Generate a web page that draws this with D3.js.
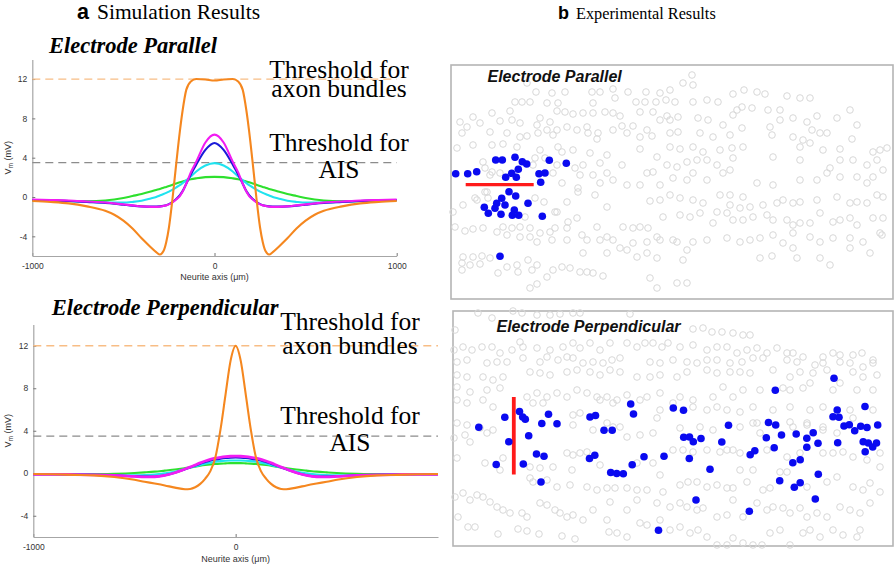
<!DOCTYPE html>
<html><head><meta charset="utf-8">
<script src="https://cdn.jsdelivr.net/npm/d3@7"></script>
<style>body{margin:0;background:#fff}svg{display:block}</style>
</head><body><svg id="c" width="896" height="566"></svg>
<script>
// ---------- DATA ----------
const xTicks = [-1000, 0, 1000];
const yTicks = [-4, 0, 4, 8, 12];
const thrAxon = 12, thrAIS = 3.5;
const seriesNames = ["green", "cyan", "blue", "magenta", "orange"];

// Electrode Parallel (simulation)
const parX = [-1000,-900,-800,-700,-600,-550,-500,-450,-400,-350,-320,-300,-280,-265,-250,-230,-210,-190,-175,-155,-130,-100,-50,0,50,100,130,155,175,190,210,230,250,265,280,300,320,350,400,450,500,550,600,700,800,900,1000];
const parOrange = [-0.4,-0.5,-0.65,-0.95,-1.4,-1.8,-2.4,-3.2,-4.2,-5.1,-5.6,-5.85,-5.5,-4.6,-3.1,-0.1,3.4,6.7,8.8,10.9,11.75,12.0,11.95,11.85,11.95,12.0,11.75,10.9,8.8,6.7,3.4,-0.1,-3.1,-4.6,-5.5,-5.85,-5.6,-5.1,-4.2,-3.2,-2.4,-1.8,-1.4,-0.95,-0.65,-0.5,-0.4];
const parMagenta = [-0.25,-0.3,-0.35,-0.45,-0.55,-0.65,-0.75,-0.85,-0.95,-1.0,-1.0,-0.98,-0.92,-0.85,-0.75,-0.55,-0.25,0.1,0.55,1.35,2.5,3.6,5.55,6.35,5.55,3.6,2.5,1.35,0.55,0.1,-0.25,-0.55,-0.75,-0.85,-0.92,-0.98,-1.0,-1.0,-0.95,-0.85,-0.75,-0.65,-0.55,-0.45,-0.35,-0.3,-0.25];
const parBlue = [-0.3,-0.35,-0.4,-0.5,-0.6,-0.68,-0.78,-0.88,-0.95,-0.98,-0.97,-0.95,-0.9,-0.83,-0.72,-0.5,-0.2,0.2,0.6,1.35,2.3,3.3,4.8,5.5,4.8,3.3,2.3,1.35,0.6,0.2,-0.2,-0.5,-0.72,-0.83,-0.9,-0.95,-0.97,-0.98,-0.95,-0.88,-0.78,-0.68,-0.6,-0.5,-0.4,-0.35,-0.3];
const parCyan = [-0.3,-0.35,-0.4,-0.48,-0.55,-0.57,-0.57,-0.5,-0.38,-0.15,0.0,0.15,0.3,0.42,0.55,0.75,0.98,1.22,1.42,1.7,2.1,2.6,3.2,3.45,3.2,2.6,2.1,1.7,1.42,1.22,0.98,0.75,0.55,0.42,0.3,0.15,0.0,-0.15,-0.38,-0.5,-0.57,-0.57,-0.55,-0.48,-0.4,-0.35,-0.3];
const parGreen = [-0.35,-0.38,-0.42,-0.42,-0.35,-0.25,-0.1,0.1,0.3,0.55,0.72,0.82,0.95,1.03,1.12,1.25,1.38,1.5,1.58,1.68,1.8,1.9,2.02,2.05,2.02,1.9,1.8,1.68,1.58,1.5,1.38,1.25,1.12,1.03,0.95,0.82,0.72,0.55,0.3,0.1,-0.1,-0.25,-0.35,-0.42,-0.42,-0.38,-0.35];

// Electrode Perpendicular (simulation)
const perX = [-1000,-900,-800,-700,-600,-500,-450,-400,-350,-300,-250,-225,-200,-175,-150,-125,-100,-75,-50,-25,0,25,50,75,100,125,150,175,200,225,250,300,350,400,450,500,600,700,800,900,1000];
const perOrange = [-0.07,-0.1,-0.15,-0.2,-0.35,-0.62,-0.8,-0.97,-1.15,-1.35,-1.5,-1.48,-1.32,-1.0,-0.5,0.2,1.5,4.1,7.4,10.6,12.0,10.6,7.4,4.1,1.5,0.2,-0.5,-1.0,-1.32,-1.48,-1.5,-1.35,-1.15,-0.97,-0.8,-0.62,-0.35,-0.2,-0.15,-0.1,-0.07];
const perMagenta = [-0.1,-0.1,-0.12,-0.15,-0.2,-0.3,-0.35,-0.33,-0.2,0.05,0.4,0.58,0.78,0.98,1.15,1.3,1.42,1.5,1.56,1.6,1.62,1.6,1.56,1.5,1.42,1.3,1.15,0.98,0.78,0.58,0.4,0.05,-0.2,-0.33,-0.35,-0.3,-0.2,-0.15,-0.12,-0.1,-0.1];
const perBlue = [-0.1,-0.1,-0.12,-0.15,-0.2,-0.28,-0.32,-0.3,-0.18,0.05,0.38,0.55,0.72,0.9,1.05,1.2,1.3,1.38,1.44,1.47,1.48,1.47,1.44,1.38,1.3,1.2,1.05,0.9,0.72,0.55,0.38,0.05,-0.18,-0.3,-0.32,-0.28,-0.2,-0.15,-0.12,-0.1,-0.1];
const perCyan = [-0.1,-0.1,-0.12,-0.14,-0.18,-0.2,-0.18,-0.12,0.0,0.15,0.4,0.52,0.65,0.78,0.9,1.0,1.08,1.14,1.18,1.2,1.2,1.2,1.18,1.14,1.08,1.0,0.9,0.78,0.65,0.52,0.4,0.15,0.0,-0.12,-0.18,-0.2,-0.18,-0.14,-0.12,-0.1,-0.1];
const perGreen = [-0.1,-0.1,-0.1,-0.08,-0.05,0.02,0.08,0.15,0.25,0.35,0.48,0.55,0.62,0.7,0.77,0.83,0.88,0.91,0.93,0.95,0.95,0.95,0.93,0.91,0.88,0.83,0.77,0.7,0.62,0.55,0.48,0.35,0.25,0.15,0.08,0.02,-0.05,-0.08,-0.1,-0.1,-0.1];

// Experimental panels: cell positions in panel units (0..442 x 0..235)
const parCells = [[241,10],[232,18],[242,20],[76,18],[85,27],[101,28],[114,27],[141,27],[149,27],[162,24],[177,27],[195,27],[209,28],[219,25],[282,29],[293,25],[306,27],[314,29],[336,31],[349,33],[359,33],[64,37],[71,37],[79,37],[96,38],[107,38],[142,38],[164,33],[185,37],[194,37],[205,37],[215,35],[224,37],[242,37],[256,35],[267,37],[291,42],[301,43],[286,45],[317,45],[329,45],[399,45],[41,48],[59,46],[106,46],[114,47],[122,49],[132,48],[142,48],[154,47],[162,48],[169,51],[189,47],[202,47],[216,51],[282,50],[9,57],[22,52],[29,58],[16,62],[11,68],[49,56],[61,55],[69,58],[89,53],[99,57],[86,60],[96,65],[106,65],[116,62],[126,65],[136,62],[147,68],[162,65],[171,61],[182,61],[196,65],[209,55],[219,55],[227,52],[247,53],[257,55],[272,60],[291,63],[319,62],[329,55],[342,53],[356,57],[366,51],[386,53],[406,60],[39,67],[56,68],[69,72],[76,71],[87,68],[102,70],[137,68],[146,74],[176,68],[189,72],[201,71],[219,68],[227,67],[249,68],[262,72],[279,70],[321,70],[342,72],[352,75],[361,65],[369,68],[376,68],[401,74],[6,83],[22,80],[41,80],[52,79],[66,82],[89,85],[107,82],[122,85],[139,88],[156,90],[171,100],[189,84],[206,92],[219,82],[229,84],[242,82],[252,87],[269,85],[281,83],[292,82],[282,93],[322,92],[349,82],[359,78],[372,85],[389,84],[402,95],[422,87],[429,85],[436,83],[32,97],[82,100],[132,100],[149,98],[156,108],[202,107],[216,100],[226,102],[236,97],[246,95],[256,95],[266,100],[279,105],[349,95],[379,103],[389,95],[416,100],[426,95],[432,105],
[39,110],[49,108],[102,108],[111,118],[129,110],[142,110],[149,118],[162,115],[176,120],[189,120],[196,108],[209,120],[222,113],[236,115],[242,108],[256,115],[272,108],[306,118],[322,120],[349,115],[366,115],[376,108],[389,112],[406,112],[416,118],[422,112],[36,127],[26,135],[12,140],[2,147],[93,137],[106,147],[116,137],[127,127],[144,130],[156,142],[199,136],[209,135],[219,130],[229,133],[242,135],[252,138],[269,130],[279,130],[292,132],[279,140],[289,143],[299,142],[312,140],[326,138],[332,135],[342,138],[349,137],[366,135],[386,132],[399,138],[406,137],[416,138],[426,130],[432,132],[4,162],[14,166],[22,164],[32,163],[46,167],[52,162],[61,163],[69,162],[79,163],[89,168],[99,167],[116,163],[126,153],[131,170],[146,162],[156,172],[172,162],[182,163],[189,162],[197,163],[206,172],[212,152],[229,150],[239,152],[222,175],[236,185],[249,148],[262,158],[266,147],[276,148],[282,155],[292,155],[302,152],[316,150],[322,155],[336,155],[342,160],[349,158],[359,158],[369,148],[382,157],[389,155],[399,153],[406,160],[422,153],[432,153],[429,168],[56,170],[69,172],[79,172],[86,177],[101,175],[116,175],[136,175],[149,175],[162,175],[169,183],[176,185],[182,178],[196,177],[209,175],[226,177],[242,177],[256,175],[276,173],[289,177],[299,175],[309,173],[322,170],[332,178],[342,168],[359,172],[369,177],[382,173],[399,173],[412,177],[431,170],[12,192],[22,192],[31,191],[39,193],[11,198],[19,200],[29,199],[11,205],[56,202],[66,200],[77,195],[86,200],[102,205],[111,202],[119,203],[129,207],[136,207],[142,208],[152,211],[96,212],[79,223],[86,219],[132,188],[156,188],[186,192],[196,188],[206,193],[232,195],[309,193],[321,191],[342,183],[346,193],[369,193],[379,200],[399,183],[419,188],[199,213],[206,223],[226,218],[236,218],[47,208],[67,207],[81,205],
[34,103],[41,107],[84,93],[94,93],[106,100],[111,87],[124,103],[127,123],[34,127],[37,133],[24,133],[84,133],[74,152],[104,147],[117,157],[104,163]];
const parActive = [[44.7,95],[51.3,95],[64,92.3],[71.3,96.7],[75.7,99],[98.3,95.3],[115.3,98.3],[4.7,108.7],[16.7,108.7],[25.7,106.7],[67.3,104.3],[60.7,108.3],[54.7,112.3],[65.3,112.3],[88,108.7],[94,108],[89.7,117.3],[58,126.7],[64.7,131],[50.7,133.3],[45.7,138.3],[54,140],[77,138.3],[33.3,142.3],[44,143.3],[63.3,145],[37.3,148.3],[50,149.3],[61.3,150.3],[67.7,150.3],[91.3,151.3],[49,191.3]];
const parElectrode = [[14.7,119.7],[82.7,119.7]];

const perCells = [[25,2],[39,7],[60,0],[69,2],[84,4],[97,4],[107,3],[120,2],[127,2],[177,3],[2,19],[240,18],[250,17],[259,21],[269,21],[280,22],[290,24],[297,24],[1,39],[10,36],[19,39],[29,36],[39,36],[47,42],[59,39],[67,31],[70,36],[84,37],[97,39],[110,36],[120,32],[127,37],[137,32],[147,39],[157,32],[174,32],[184,36],[192,32],[200,32],[209,36],[215,32],[227,36],[240,34],[254,39],[264,36],[274,36],[284,42],[294,39],[304,37],[314,42],[324,37],[334,42],[340,42],[350,46],[370,46],[380,42],[387,44],[400,44],[409,42],[420,49],[4,51],[14,49],[34,52],[44,51],[54,51],[70,47],[87,51],[94,46],[105,49],[114,46],[120,47],[130,52],[140,51],[150,52],[159,49],[167,47],[197,51],[207,52],[220,49],[234,51],[244,52],[254,49],[264,49],[277,52],[289,51],[300,47],[310,47],[334,49],[344,51],[362,54],[370,52],[387,51],[397,52],[410,56],[420,52],[4,64],[14,66],[30,66],[40,69],[50,66],[77,61],[87,62],[97,64],[114,61],[124,59],[137,61],[147,64],[157,59],[167,61],[184,66],[197,66],[207,64],[224,66],[234,61],[254,59],[264,62],[277,61],[287,61],[297,62],[320,59],[337,66],[347,61],[360,62],[374,59],[400,61],[410,66],[424,64],[4,76],[17,81],[34,79],[47,77],[74,86],[84,82],[94,86],[104,82],[114,86],[124,79],[134,82],[144,86],[154,86],[164,89],[174,84],[187,89],[194,86],[207,82],[227,86],[240,89],[260,86],[270,76],[280,86],[290,79],[307,79],[330,77],[337,79],[350,77],[357,72],[380,79],[387,72],[404,79],[420,79],[4,89],[14,92],[30,89],[40,96],[80,92],[90,92],[120,104],[127,102],[147,89],[160,92],[207,99],[220,92],[240,96],[254,99],[264,96],[274,99],[287,101],[300,96],[320,99],[337,96],[357,99],[370,96],[397,99],[420,99],[204,107],[154,112],[167,116],[304,112],[337,111],[354,114],[370,116],[400,107],
[4,112],[14,114],[27,117],[40,119],[1,127],[17,131],[12,124],[34,122],[120,114],[140,119],[160,116],[174,126],[187,124],[200,122],[227,117],[247,116],[260,119],[287,116],[300,112],[307,122],[340,116],[354,112],[370,119],[384,122],[4,147],[32,152],[50,147],[77,156],[87,157],[100,156],[114,142],[120,144],[127,142],[134,141],[147,154],[119,159],[184,152],[200,152],[220,139],[230,139],[240,141],[254,139],[267,141],[274,139],[280,139],[287,142],[314,139],[334,146],[347,142],[370,142],[380,142],[390,141],[400,146],[414,149],[427,142],[427,156],[47,159],[77,167],[80,171],[94,169],[104,176],[117,174],[134,176],[144,179],[154,177],[162,177],[174,177],[184,179],[194,179],[207,164],[210,181],[227,174],[235,171],[244,171],[254,176],[264,174],[274,177],[280,177],[287,159],[294,171],[300,159],[310,179],[317,177],[327,161],[334,161],[354,176],[374,171],[384,166],[400,176],[410,179],[417,172],[427,181],[2,186],[10,182],[17,189],[24,184],[30,186],[37,191],[44,196],[50,199],[57,202],[69,202],[74,206],[87,192],[94,194],[102,199],[107,202],[114,206],[120,204],[130,209],[140,199],[157,191],[154,209],[174,199],[184,189],[204,192],[217,196],[227,192],[234,196],[244,199],[250,197],[264,206],[274,204],[280,189],[290,206],[304,192],[314,199],[320,196],[330,197],[337,202],[347,197],[354,206],[364,202],[374,206],[387,196],[397,199],[407,202],[417,192],[5,206],[15,216],[22,216],[45,223],[65,218],[74,220],[86,223],[109,225],[122,228],[156,221],[164,222],[174,226],[187,212],[194,214],[207,209],[217,219],[227,216],[237,222],[245,219],[254,226],[264,234],[274,234],[280,227],[290,232],[300,234],[309,234],[317,222],[327,219],[337,234],[350,222],[357,219],[367,226],[380,219],[390,224],[404,226],[407,219]];
const perActive = [[381,67.3],[322.3,79.3],[177.7,93],[220.3,97],[230.5,99.3],[412,95.5],[51.8,106.3],[66.5,100.5],[69.7,106],[72.3,108.3],[95.5,103.3],[88.8,112.5],[104,112.8],[137,106],[142.5,104.5],[180.5,103],[384.2,99],[380,105.8],[386,106.3],[275.5,114.3],[315.5,111.5],[322.7,114],[391,115],[396.3,113.7],[401.7,119.7],[407.7,115.3],[414,116.5],[424.7,114],[25.8,116.3],[75.7,124.7],[55.8,130.7],[83.5,143],[91,145.3],[43.2,153.5],[70.3,153],[136.5,147.5],[141.8,144.2],[88,171],[151,119.2],[159.2,119.2],[157.7,161.5],[163.7,162.5],[170.3,162.7],[179.2,153.8],[191,145.7],[211,145.3],[230.7,126.2],[236.5,126],[240.3,130.7],[248,127.5],[236.3,147.5],[257,158.2],[268.8,131],[243,189],[205.5,219.3],[296.3,200.3],[297.2,143.7],[301.8,139.8],[313.3,126.7],[321.2,136.7],[328.5,124],[343.2,123],[353.8,127.3],[360.2,121.7],[353.8,136.3],[365,132.2],[339.8,151.8],[347.2,148.8],[365.3,163.2],[326.7,169.7],[341.3,176.3],[347.2,171.7],[362.3,188],[384.7,131.7],[410.2,130.8],[415.3,132],[419.7,136],[423.5,132],[412.2,140.8]];
const perElectrode = [[60.8,86],[60.8,163.5]];

// ---------- DRAW ----------
const svg = d3.select("#c");
const colors = {green:"#2ee02e", cyan:"#1fe3ef", blue:"#1a1ad8", magenta:"#f21cf2", orange:"#f5871f"};
const serif = "'Liberation Serif', 'Times New Roman', serif";
const sans = "'Liberation Sans', Arial, sans-serif";

// headers
const ha = svg.append("text").attr("x", 77).attr("y", 19).attr("font-size", 21.5);
ha.append("tspan").attr("font-family", sans).attr("font-weight", "bold").text("a");
ha.append("tspan").attr("font-family", serif).attr("dx", 8).text("Simulation Results");
const hb = svg.append("text").attr("x", 558).attr("y", 19);
hb.append("tspan").attr("font-family", sans).attr("font-weight", "bold").attr("font-size", 18).text("b");
hb.append("tspan").attr("font-family", serif).attr("font-size", 16.3).attr("dx", 7).text("Experimental Results");

function drawSim(cfg) {
  const g = svg.append("g");
  if (cfg.clip) {
    svg.append("clipPath").attr("id", cfg.clip).append("rect")
      .attr("x", 0).attr("y", cfg.yr[1] - 40).attr("width", 441).attr("height", 300);
    g.attr("clip-path", `url(#${cfg.clip})`);
  }
  const x = d3.scaleLinear().domain([-1000, 1000]).range(cfg.xr);
  const y = d3.scaleLinear().domain([-6, 14]).range(cfg.yr);

  const xa = g.append("g").attr("transform", `translate(0,${y(-6)})`)
    .call(d3.axisBottom(x).tickValues(cfg.xt).tickSizeInner(-3).tickSizeOuter(0).tickPadding(7).tickFormat(d => String(d)));
  const ya = g.append("g").attr("transform", `translate(${x(-1000)},0)`)
    .call(d3.axisLeft(y).tickValues(yTicks).tickSizeInner(-3).tickSizeOuter(0).tickPadding(5).tickFormat(d => String(d)));
  [xa, ya].forEach(a => {
    a.select(".domain").attr("stroke", "#a6a6a6").attr("stroke-width", 1.2);
    a.selectAll(".tick line").attr("stroke", "#777");
    a.selectAll(".tick text").attr("font-family", sans).attr("font-size", 8.5).attr("fill", "#333");
  });

  // thresholds
  g.append("line").attr("x1", x(-1000)).attr("x2", x(1000)).attr("y1", y(thrAxon)).attr("y2", y(thrAxon))
    .attr("stroke", "#f8bd85").attr("stroke-width", 1.3).attr("stroke-dasharray", "8,5");
  g.append("line").attr("x1", x(-1000)).attr("x2", x(1000)).attr("y1", y(thrAIS)).attr("y2", y(thrAIS))
    .attr("stroke", "#8c8c8c").attr("stroke-width", 1.3).attr("stroke-dasharray", "8,5");

  const line = d3.line().x(d => x(d[0])).y(d => y(d[1])).curve(d3.curveMonotoneX);
  seriesNames.forEach(n => {
    const vals = cfg.series[n];
    g.append("path").datum(cfg.xs.map((v, i) => [v, vals[i]]))
      .attr("d", line).attr("fill", "none").attr("stroke", colors[n])
      .attr("stroke-width", n === "magenta" && cfg.thickMag ? 2.8 : 2.1).attr("stroke-linejoin", "round");
  });

  // axis labels
  svg.append("text").attr("x", x(0)).attr("y", cfg.xlabY).attr("text-anchor", "middle")
    .attr("font-family", sans).attr("font-size", 9).attr("fill", "#333").text("Neurite axis (\u03bcm)");
  const yl = svg.append("text").attr("transform", `translate(11,${(y(-6) + y(14)) / 2}) rotate(-90)`)
    .attr("text-anchor", "middle").attr("font-family", sans).attr("font-size", 9).attr("fill", "#333");
  yl.append("tspan").text("V");
  yl.append("tspan").attr("font-size", 6.5).attr("dy", 2).text("m");
  yl.append("tspan").attr("dy", -2).text(" (mV)");

  // titles & threshold notes
  svg.append("text").attr("x", cfg.titleX).attr("y", cfg.titleY).attr("font-family", serif)
    .attr("font-weight", "bold").attr("font-style", "italic").attr("font-size", 22.5).text(cfg.title);
  cfg.notes.forEach(nt => {
    svg.append("text").attr("x", cfg.noteX).attr("y", nt[1]).attr("text-anchor", "middle")
      .attr("font-family", serif).attr("font-size", 25.5).attr("fill", "#000").text(nt[0]);
  });
}

drawSim({
  xr: [32.3, 396.7], yr: [256, 59.4], xt: xTicks, xs: parX,
  series: {orange: parOrange, magenta: parMagenta, blue: parBlue, cyan: parCyan, green: parGreen},
  xlabY: 279.5, title: "Electrode Parallel", titleX: 49, titleY: 53,
  noteX: 339, notes: [["Threshold for", 78], ["axon bundles", 96.5], ["Threshold for", 150.5], ["AIS", 178]]
});
drawSim({
  xr: [33.3, 438], yr: [537, 324.5], xt: [-1000, 0], xs: perX, clip: "clipB", thickMag: true,
  series: {orange: perOrange, magenta: perMagenta, blue: perBlue, cyan: perCyan, green: perGreen},
  xlabY: 562, title: "Electrode Perpendicular", titleX: 51.7, titleY: 315,
  noteX: 350, notes: [["Threshold for", 329.5], ["axon bundles", 354], ["Threshold for", 423.5], ["AIS", 450.7]]
});

function drawExp(cfg) {
  const x = d3.scaleLinear().domain([0, cfg.w]).range([cfg.x0, cfg.x0 + cfg.w]);
  const y = d3.scaleLinear().domain([0, cfg.h]).range([cfg.y0, cfg.y0 + cfg.h]);
  const g = svg.append("g");
  g.append("rect").attr("x", x(0)).attr("y", y(0)).attr("width", x(cfg.w) - x(0)).attr("height", y(cfg.h) - y(0))
    .attr("fill", "#fff").attr("stroke", "#b5b5b5").attr("stroke-width", 1.6);
  g.selectAll(".cell").data(cfg.cells).join("circle")
    .attr("cx", d => x(d[0])).attr("cy", d => y(d[1])).attr("r", 3.3)
    .attr("fill", "none").attr("stroke", "#d8d8d8").attr("stroke-width", 1);
  g.append("text").attr("x", cfg.tx).attr("y", cfg.ty).attr("font-family", sans).attr("font-weight", "bold")
    .attr("font-style", "italic").attr("font-size", 16).attr("fill", "#111").text(cfg.title);
  g.append("line").attr("x1", x(cfg.el[0][0])).attr("y1", y(cfg.el[0][1]))
    .attr("x2", x(cfg.el[1][0])).attr("y2", y(cfg.el[1][1]))
    .attr("stroke", "#ff1a1a").attr("stroke-width", cfg.elw);
  g.selectAll(".act").data(cfg.active).join("circle")
    .attr("cx", d => x(d[0])).attr("cy", d => y(d[1])).attr("r", 3.8).attr("fill", "#0a0af0");
}

drawExp({x0: 451, y0: 65, w: 442, h: 234, cells: parCells, active: parActive, el: parElectrode, elw: 3.2,
  title: "Electrode Parallel", tx: 487.5, ty: 81.5});
drawExp({x0: 453, y0: 311, w: 440, h: 235, cells: perCells, active: perActive, el: perElectrode, elw: 3.8,
  title: "Electrode Perpendicular", tx: 496.5, ty: 332});
</script></body></html>
